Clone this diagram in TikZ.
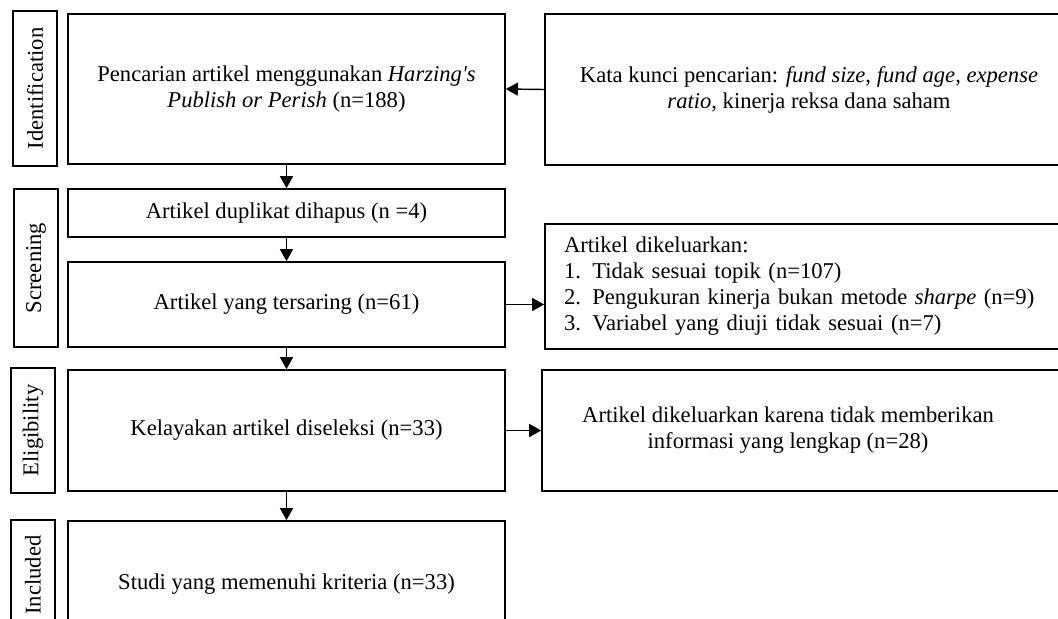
\documentclass[tikz,border=0pt]{standalone}
\usepackage{fontspec}
\setmainfont{Liberation Serif}
\usetikzlibrary{arrows.meta}

\begin{document}
\begin{tikzpicture}[x=0.5pt, y=-0.5pt,
    box/.style={draw, line width=0.8pt, inner sep=0pt, align=center,
        font=\fontsize{11.3}{13}\selectfont},
    phase/.style={box, rotate=90, minimum height=22pt},
    arr/.style={line width=0.7pt, -{Triangle[length=6pt,width=6.5pt]}}]
        \useasboundingbox (0,0) rectangle (1058,619);
        \clip (0,0) rectangle (1058,619);
        % phase labels
        \node[phase, minimum width=77.5pt] (ident) at (35,88.5)  {Identification};
        \node[phase, minimum width=79pt]   (scr)   at (36,268)   {Screening};
        \node[phase, minimum width=62.5pt] (elg)   at (33,430.5) {Eligibility};
        \node[phase, minimum width=55pt]   (inc)   at (33,575)   {Included};
        % main column
        \node[box, minimum width=218.5pt, minimum height=75pt]   (search) at (286.5,89)    {Pencarian artikel menggunakan \textit{Harzing\textquotesingle s}\\\textit{Publish or Perish} (n=188)};
        \node[box, minimum width=218.5pt, minimum height=24pt]   (dup)    at (286.5,213)   {Artikel duplikat dihapus (n =4)};
        \node[box, minimum width=218.5pt, minimum height=42.5pt] (screen) at (286.5,304.5) {Artikel yang tersaring (n=61)};
        \node[box, minimum width=218.5pt, minimum height=60.5pt] (elig)   at (286.5,430.5) {Kelayakan artikel diseleksi (n=33)};
        \node[box, minimum width=218.5pt, minimum height=63pt]   (incl)   at (286.5,584)   {Studi yang memenuhi kriteria (n=33)};
        % side column
        \node[box, minimum width=264pt, minimum height=75.5pt] (keys)  at (809,89.5)  {Kata kunci pencarian: \textit{fund size}, \textit{fund age}, \textit{expense}\\\textit{ratio}, kinerja reksa dana saham};
        \node[box, align=left, text width=245pt, inner xsep=9.5pt, minimum height=62.5pt] (excl1) at (809,286.5) {Artikel dikeluarkan:\\1. Tidak sesuai topik (n=107)\\2. Pengukuran kinerja bukan metode \textit{sharpe} (n=9)\\3. Variabel yang diuji tidak sesuai (n=7)};
        \node[box, minimum width=265.5pt, minimum height=60.5pt] (excl2) at (807.5,430.5) {};
        \node[font=\fontsize{11.3}{13}\selectfont, align=center, inner sep=0pt] (excl2txt) at (788,430.5) {Artikel dikeluarkan karena tidak memberikan\\informasi yang lengkap (n=28)};
        % arrows
        \draw[arr] (keys.west) -- (search.east);
        \draw[arr] (search) -- (dup);
        \draw[arr] (dup) -- (screen);
        \draw[arr] (screen.east) -- (screen.east -| excl1.west);
        \draw[arr] (screen) -- (elig);
        \draw[arr] (elig.east) -- (excl2.west);
        \draw[arr] (elig) -- (incl);
\end{tikzpicture}
\end{document}
